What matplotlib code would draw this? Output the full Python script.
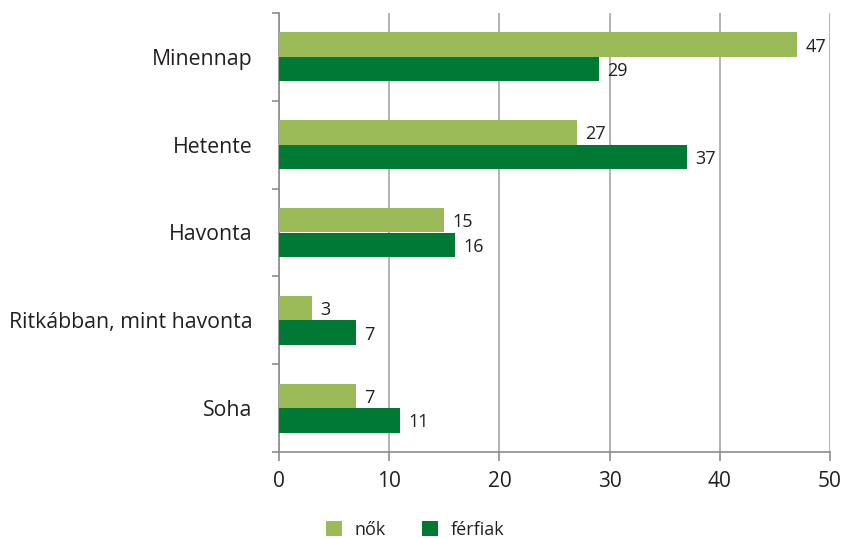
import matplotlib
matplotlib.use("Agg")
import matplotlib.pyplot as plt
import numpy as np
from matplotlib.ticker import FixedLocator

plt.rcParams['font.family'] = ['Open Sans', 'DejaVu Sans']

categories = ["Minennap", "Hetente", "Havonta", "Ritkábban, mint havonta", "Soha"]
nok = [47, 27, 15, 3, 7]
ferfiak = [29, 37, 16, 7, 11]
series_names = ["nők", "férfiak"]
xticks = [0, 10, 20, 30, 40, 50]

c_light = "#9BBB59"
c_dark = "#007934"
grid_c = "#A6A6A6"
axis_c = "#8C8C8C"
text_c = "#231F20"

fig = plt.figure(figsize=(8.42, 5.38), dpi=100)
ax = fig.add_axes([279/842, (538-452)/538, (830-279)/842, (452-13)/538])

n = len(categories)
y = np.arange(n)
h = 0.28
b1 = ax.barh(y - h/2, nok, height=h, color=c_light, label=series_names[0], zorder=3)
b2 = ax.barh(y + h/2, ferfiak, height=h, color=c_dark, label=series_names[1], zorder=3)

for bars, vals in ((b1, nok), (b2, ferfiak)):
    for rect, v in zip(bars, vals):
        ax.annotate(str(v), (rect.get_width(), rect.get_y() + rect.get_height()/2),
                    xytext=(6, -1.5), textcoords="offset points", va="center", ha="left",
                    fontsize=13, color=text_c)

ax.set_ylim(n - 0.5, -0.5)
ax.set_xlim(0, 50)
ax.set_xticks(xticks)
ax.set_xticklabels([str(t) for t in xticks], fontsize=15, color=text_c)
ax.set_yticks(y)
ax.set_yticklabels(categories, fontsize=15.3, color=text_c)
ax.yaxis.set_minor_locator(FixedLocator(np.arange(n + 1) - 0.5))
ax.tick_params(axis='y', which='major', length=0, pad=19)
ax.tick_params(axis='y', which='minor', length=5, color=axis_c, width=1.2)
ax.tick_params(axis='x', which='major', length=6.5, color=axis_c, width=1.2, pad=7)

ax.xaxis.grid(True, color=grid_c, linewidth=1.2, zorder=0)
for s in ['top', 'right']:
    ax.spines[s].set_visible(False)
for s in ['left', 'bottom']:
    ax.spines[s].set_color(axis_c)
    ax.spines[s].set_linewidth(1.2)

fig.legend(handles=[b1, b2], labels=series_names, loc='center', bbox_to_anchor=(415/842, 1 - 530/538),
           ncol=2, frameon=False, fontsize=13, handlelength=0.9, handleheight=0.9,
           columnspacing=2.0, handletextpad=0.7, labelcolor=text_c)

fig.savefig("out.png", dpi=100)
